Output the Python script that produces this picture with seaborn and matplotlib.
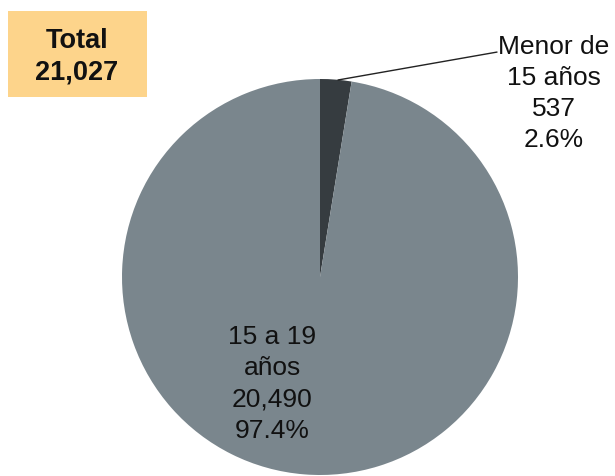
import matplotlib
matplotlib.use("Agg")
import matplotlib.pyplot as plt
import seaborn as sns
from matplotlib.patches import Rectangle

# ---------- Data ----------
grupos = ["Menor de\n15 años", "15 a 19\naños"]
casos = [537, 20490]
porcentajes = ["2.6%", "97.4%"]
total = 21027

# ---------- Theme ----------
sns.set_theme(style="white")
plt.rcParams["font.family"] = ["Liberation Sans", "DejaVu Sans"]

DARK = "#363c40"
GRAY = "#7a868d"
BOX = "#fdd48b"

fig = plt.figure(figsize=(6.15, 4.77), dpi=100)
fig.patch.set_facecolor("white")

# pie centered at about (320, 278) px, radius 198 px
ax = fig.add_axes([122 / 615, 1 / 477, 396 / 615, 396 / 477])
ax.pie(casos, colors=[DARK, GRAY], startangle=90, counterclock=False,
       radius=1.0, wedgeprops=dict(linewidth=0))
ax.set_xlim(-1, 1)
ax.set_ylim(-1, 1)
ax.set_aspect("equal")
ax.axis("off")

labels = [f"{g}\n{c:,}\n{p}" for g, c, p in zip(grupos, casos, porcentajes)]

# small slice: label outside with leader line
ax.plot([0.091, 0.894], [0.995, 1.136], color="#222222", lw=1.0, clip_on=False)
ax.text(1.182, 0.934, labels[0], ha="center", va="center", fontsize=19,
        color="#111111", linespacing=1.37, clip_on=False)

# big slice: label inside
ax.text(-0.242, -0.535, labels[1], ha="center", va="center", fontsize=19,
        color="#111111", linespacing=1.4)

# ---------- Total box ----------
fig.patches.append(Rectangle((8 / 615, (477 - 98) / 477), 139 / 615, 86 / 477,
                             transform=fig.transFigure, facecolor=BOX,
                             edgecolor="none", zorder=0))
fig.text(77 / 615, 1 - 57 / 477, f"Total\n{total:,}", ha="center", va="center",
         fontsize=19.5, fontweight="bold", color="#111111", linespacing=1.28)

fig.savefig("out.png", dpi=100)
plt.close(fig)
